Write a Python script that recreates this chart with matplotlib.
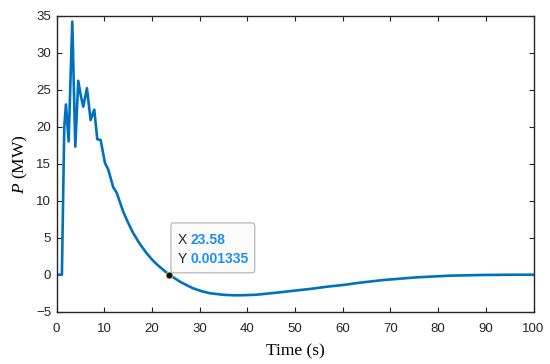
#!/usr/bin/env python3
"""Power response P(t) with a MATLAB-style data tip."""

import matplotlib

matplotlib.use("Agg")
import matplotlib.pyplot as plt
from matplotlib.patches import FancyBboxPatch

# =============================================================================
# Data
# =============================================================================

time_s = [
    0.0, 1.1, 1.6, 1.95, 2.51, 3.28, 3.91, 4.53, 5.09, 5.58, 6.35, 7.12,
    7.89, 8.52, 9.22, 10.13, 10.83, 11.87, 12.57, 13.97, 15.0, 16.07, 17.5,
    18.87, 20.0, 21.0, 22.0, 23.58, 26.0, 28.6, 30.5, 32.1, 35.0, 37.0, 39.0,
    42.0, 46.1, 50.0, 53.1, 57.0, 60.1, 63.6, 68.5, 75.5, 82.5, 89.4, 95.0,
    100.0,
]
power_mw = [
    0.0, 0.0, 20.0, 23.0, 18.0, 34.2, 17.3, 26.2, 24.1, 22.7, 25.2, 20.9,
    22.3, 18.3, 18.2, 15.1, 14.2, 11.8, 11.1, 8.5, 7.0, 5.6, 4.1,
    2.9, 2.05, 1.4, 0.85, 0.001335, -1.0, -1.84, -2.25, -2.5, -2.72, -2.78, -2.78,
    -2.7, -2.43, -2.15, -1.93, -1.6, -1.39, -1.08, -0.72, -0.36, -0.13, -0.04, -0.01,
    0.0,
]

x_ticks = list(range(0, 101, 10))
y_ticks = list(range(-5, 36, 5))

tip_x = 23.58
tip_y = 0.001335

LINE_COLOR = "#0072BD"
TIP_VALUE_COLOR = "#1E90F0"

plt.rcParams["mathtext.fontset"] = "custom"
plt.rcParams["mathtext.it"] = "Liberation Serif:italic"

# =============================================================================
# Plot
# =============================================================================

fig = plt.figure(figsize=(5.5, 3.64), dpi=100)
ax = fig.add_axes([0.103, 0.1437, 0.867, 0.8133])

ax.plot(time_s, power_mw, color=LINE_COLOR, linewidth=1.9, zorder=2)

ax.set_xlim(0, 100)
ax.set_ylim(-5, 35)
ax.set_xticks(x_ticks)
ax.set_yticks(y_ticks)
ax.tick_params(
    direction="in", top=True, right=True, length=3.5, width=0.8,
    labelsize=9.5, colors="#262626",
)
ax.tick_params(axis="x", pad=8)
ax.tick_params(axis="y", pad=4)
for lbl in ax.get_xticklabels() + ax.get_yticklabels():
    lbl.set_fontfamily("Liberation Sans")
for s in ax.spines.values():
    s.set_linewidth(1.0)
    s.set_color("#262626")

ax.set_xlabel("Time (s)", fontfamily="Liberation Serif", fontsize=12.5, labelpad=6.5)
ax.set_ylabel(r"$P$ (MW)", fontfamily="Liberation Serif", fontsize=12.5, labelpad=4)

# Data tip marker and box
ax.plot([tip_x], [tip_y], "o", markersize=5, markerfacecolor="#111111",
        markeredgecolor="#d9d9a0", markeredgewidth=0.6, zorder=4)

box = FancyBboxPatch(
    (23.96, 0.25), 17.6, 6.75,
    boxstyle="round,pad=0,rounding_size=0.4",
    mutation_aspect=1.55,
    facecolor="#fbfbfb", edgecolor="#b0b0b0", linewidth=0.8, zorder=3,
)
ax.add_patch(box)
ax.text(25.3, 4.69, "X", fontsize=10, fontfamily="Liberation Sans",
        color="#262626", va="center", zorder=5)
ax.text(28.0, 4.69, f"{tip_x:.2f}", fontsize=10, fontfamily="Liberation Sans",
        fontweight="bold", color=TIP_VALUE_COLOR, va="center", zorder=5)
ax.text(25.3, 2.12, "Y", fontsize=10, fontfamily="Liberation Sans",
        color="#262626", va="center", zorder=5)
ax.text(28.0, 2.12, f"{tip_y:.6f}", fontsize=10, fontfamily="Liberation Sans",
        fontweight="bold", color=TIP_VALUE_COLOR, va="center", zorder=5)

fig.savefig("out.png", dpi=100, facecolor="white")
plt.close(fig)
